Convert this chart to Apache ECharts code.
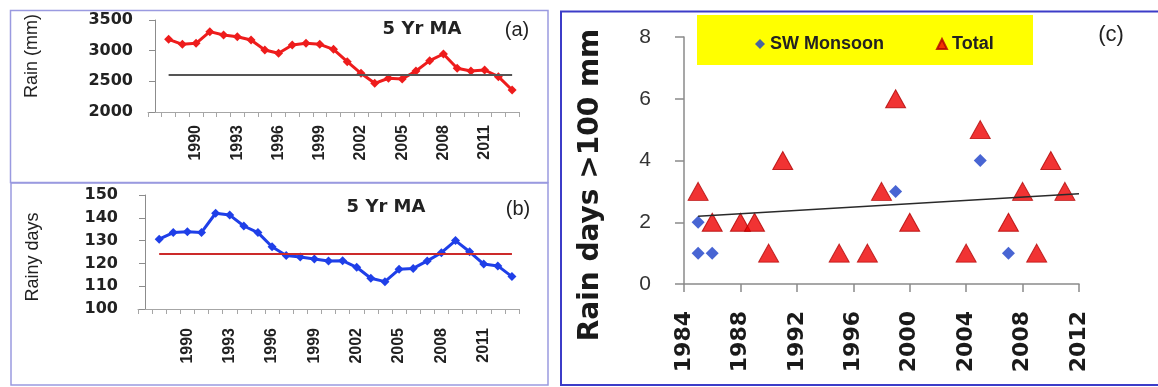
<!DOCTYPE html>
<html><head><meta charset="utf-8">
<script src="https://cdn.jsdelivr.net/npm/echarts@6/dist/echarts.min.js"></script>
<style>html,body{margin:0;padding:0;background:#fff}#c{width:1158px;height:387px}</style>
</head><body><div id="c"></div>
<script>
// ---- Data ----
const years = ['1987','1988','1989','1990','1991','1992','1993','1994','1995','1996','1997','1998','1999','2000',
  '2001','2002','2003','2004','2005','2006','2007','2008','2009','2010','2011','2012','2013'];
const yearLabels = ['1990','1993','1996','1999','2002','2005','2008','2011'];
const rainMA = [null, 3185, 3104, 3120, 3310, 3255, 3228, 3174, 3011, 2957, 3092, 3120, 3104, 3022,
  2820, 2631, 2468, 2550, 2538, 2669, 2837, 2946, 2712, 2669, 2685, 2576, 2359];
const rainMean = 2605;
const rainyDaysMA = [null, 130.6, 133.5, 133.9, 133.6, 142, 141.2, 136.4, 133.5, 127.3, 123.5, 122.8, 121.9, 121.1,
  121.2, 118.3, 113.5, 112, 117.4, 117.8, 121.1, 124.7, 130, 125.1, 119.7, 118.9, 114.2];
const rainyDaysMean = 124.4;
const firstYear = '1988', lastYear = '2013';

const swMonsoon = [[1985, 2], [1985, 1], [1986, 1], [1999, 3], [2005, 4], [2007, 1]];
const totalDays = [[1985, 3], [1986, 2], [1988, 2], [1989, 2], [1990, 1], [1991, 4], [1995, 1], [1997, 1], [1998, 3],
  [1999, 6], [2000, 2], [2004, 1], [2005, 5], [2007, 2], [2008, 3], [2009, 1], [2010, 4], [2011, 3]];

// linear trend of Total
function trend(pts, x0, x1) {
  const n = pts.length;
  const mx = pts.reduce((s, p) => s + p[0], 0) / n;
  const my = pts.reduce((s, p) => s + p[1], 0) / n;
  let sxy = 0, sxx = 0;
  pts.forEach(p => { sxy += (p[0] - mx) * (p[1] - my); sxx += (p[0] - mx) * (p[0] - mx); });
  const b = sxy / sxx, a = my - b * mx;
  return [[x0, a + b * x0], [x1, a + b * x1]];
}
const trendLine = trend(totalDays, Math.min(...totalDays.map(p => p[0])), 2012);

const boldFont = 'DejaVu Sans';
const sans = 'Liberation Sans';

function catAxis(gi, margin) {
  return {
    type: 'category', gridIndex: gi, data: years, boundaryGap: true,
    axisLine: { show: true, lineStyle: { color: '#a6a6a6', width: 1 } },
    axisTick: { show: true, interval: 0, length: 5, lineStyle: { color: '#a6a6a6' } },
    axisLabel: {
      interval: (i, v) => yearLabels.indexOf(v) >= 0, rotate: 90, margin: margin,
      fontFamily: sans, fontWeight: 'bold', fontSize: 16, color: '#222'
    },
    splitLine: { show: false }
  };
}
function valAxis(gi, min, max, interval, margin) {
  return {
    type: 'value', gridIndex: gi, min: min, max: max, interval: interval, offset: -7,
    axisLine: { show: true, lineStyle: { color: '#8c8c8c', width: 1 } },
    axisTick: { show: true, length: 6, lineStyle: { color: '#8c8c8c' } },
    axisLabel: { margin: margin, fontFamily: boldFont, fontWeight: 'bold', fontSize: 16, color: '#222',
      formatter: v => String(v) },
    splitLine: { show: false }
  };
}

const chart = echarts.init(document.getElementById('c'), null, { renderer: 'canvas' });
chart.setOption({
  animation: false,
  backgroundColor: '#fff',
  grid: [
    { left: 148, top: 20, width: 371, height: 92, outerBoundsMode: 'none' },
    { left: 138, top: 195, width: 381, height: 114, outerBoundsMode: 'none' },
    { left: 684, top: 37, width: 395, height: 247, outerBoundsMode: 'none' }
  ],
  xAxis: [
    catAxis(0, 13),
    catAxis(1, 19),
    {
      type: 'value', gridIndex: 2, min: 1984, max: 2012, interval: 4,
      axisLine: { show: true, lineStyle: { color: '#8a8a8a', width: 1.5 } },
      axisTick: { show: true, length: 8, lineStyle: { color: '#8a8a8a', width: 1.5 } },
      axisLabel: { rotate: 90, margin: 27, fontFamily: boldFont, fontWeight: 'bold', fontSize: 22, color: '#1a1a1a',
        formatter: v => String(v) },
      splitLine: { show: false }
    }
  ],
  yAxis: [
    valAxis(0, 2000, 3500, 500, 22),
    valAxis(1, 100, 150, 10, 27),
    {
      type: 'value', gridIndex: 2, min: 0, max: 8, interval: 2,
      axisLine: { show: true, lineStyle: { color: '#8a8a8a', width: 1.5 } },
      axisTick: { show: true, length: 9, lineStyle: { color: '#8a8a8a', width: 1.5 } },
      axisLabel: { margin: 33, fontFamily: sans, fontSize: 21, color: '#333' },
      splitLine: { show: false }
    }
  ],
  legend: {
    data: ['SW Monsoon', 'Total'], left: 750, top: 30, itemGap: 52, itemWidth: 10, itemHeight: 10,
    textStyle: { fontFamily: sans, fontWeight: 'bold', fontSize: 18, color: '#222' }, z: 10
  },
  series: [
    {
      name: 'Rain 5 Yr MA', type: 'line', xAxisIndex: 0, yAxisIndex: 0, data: rainMA,
      symbol: 'diamond', symbolSize: 9, showSymbol: true,
      lineStyle: { color: '#ee1c1c', width: 3 }, itemStyle: { color: '#ee1c1c' },
      markLine: {
        silent: true, symbol: 'none', label: { show: false },
        lineStyle: { color: '#555', width: 2, type: 'solid' },
        data: [[{ coord: [firstYear, rainMean] }, { coord: [lastYear, rainMean] }]]
      }, z: 3
    },
    {
      name: 'Rainy days 5 Yr MA', type: 'line', xAxisIndex: 1, yAxisIndex: 1, data: rainyDaysMA,
      symbol: 'diamond', symbolSize: 9, showSymbol: true,
      lineStyle: { color: '#1f3fe8', width: 3 }, itemStyle: { color: '#1f3fe8' },
      markLine: {
        silent: true, symbol: 'none', label: { show: false },
        lineStyle: { color: '#cc2a2a', width: 2, type: 'solid' },
        data: [[{ coord: [firstYear, rainyDaysMean] }, { coord: [lastYear, rainyDaysMean] }]]
      }, z: 3
    },
    {
      name: 'SW Monsoon', type: 'scatter', xAxisIndex: 2, yAxisIndex: 2, data: swMonsoon,
      symbol: 'diamond', symbolSize: 13, itemStyle: { color: '#1a3fc8' }, z: 3
    },
    {
      name: 'Total', type: 'scatter', xAxisIndex: 2, yAxisIndex: 2, data: totalDays,
      symbol: 'triangle', symbolSize: [20, 18], itemStyle: { color: '#ee0000', borderColor: '#b00000', borderWidth: 1 }, z: 4
    },
    {
      name: 'Trend', type: 'line', xAxisIndex: 2, yAxisIndex: 2, data: trendLine,
      symbol: 'none', lineStyle: { color: '#2a2a2a', width: 1.5 }, z: 6, silent: true
    }
  ],
  graphic: [
    { type: 'rect', shape: { x: 10.5, y: 10.5, width: 537.5, height: 172 }, style: { fill: 'none', stroke: '#9a9ae0', lineWidth: 1.5 }, z: 0 },
    { type: 'rect', shape: { x: 11, y: 183, width: 537, height: 202 }, style: { fill: 'none', stroke: '#9a9ae0', lineWidth: 1.5 }, z: 0 },
    { type: 'rect', shape: { x: 561, y: 11.5, width: 600, height: 373.5 }, style: { fill: 'none', stroke: '#3c3cc8', lineWidth: 2 }, z: 0 },
    { type: 'rect', shape: { x: 697, y: 15, width: 336, height: 50 }, style: { fill: '#ffff00' }, z: 0 },
    { type: 'text', x: 422, y: 29, style: { text: '5 Yr MA', fontFamily: boldFont, fontWeight: 'bold', fontSize: 18, fill: '#222', align: 'center', verticalAlign: 'middle' } },
    { type: 'text', x: 517, y: 30, style: { text: '(a)', fontFamily: sans, fontSize: 20, fill: '#222', align: 'center', verticalAlign: 'middle' } },
    { type: 'text', x: 386, y: 207, style: { text: '5 Yr MA', fontFamily: boldFont, fontWeight: 'bold', fontSize: 18, fill: '#222', align: 'center', verticalAlign: 'middle' } },
    { type: 'text', x: 518, y: 209, style: { text: '(b)', fontFamily: sans, fontSize: 20, fill: '#222', align: 'center', verticalAlign: 'middle' } },
    { type: 'text', x: 1111, y: 35, style: { text: '(c)', fontFamily: sans, fontSize: 22, fill: '#222', align: 'center', verticalAlign: 'middle' } },
    { type: 'text', x: 32, y: 56, rotation: Math.PI / 2, style: { text: 'Rain (mm)', fontFamily: sans, fontSize: 18, fill: '#222', align: 'center', verticalAlign: 'middle' } },
    { type: 'text', x: 33, y: 257, rotation: Math.PI / 2, style: { text: 'Rainy days', fontFamily: sans, fontSize: 18, fill: '#222', align: 'center', verticalAlign: 'middle' } },
    { type: 'text', x: 591, y: 185, rotation: Math.PI / 2, style: { text: 'Rain days >100 mm', fontFamily: boldFont, fontWeight: 'bold', fontSize: 28, fill: '#1a1a1a', align: 'center', verticalAlign: 'middle' } }
  ]
});
</script></body></html>
